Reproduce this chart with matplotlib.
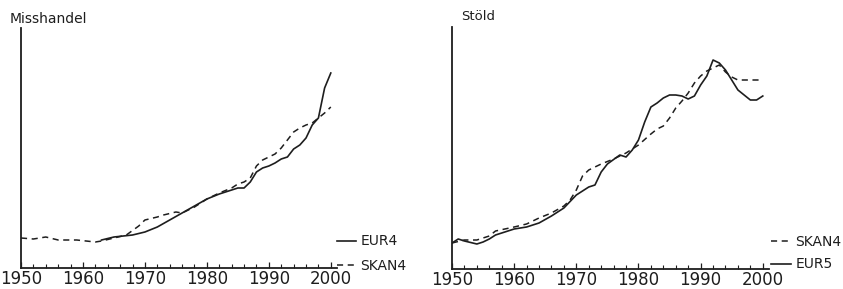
import numpy as np
import matplotlib
matplotlib.use("Agg")
import matplotlib.pyplot as plt

# Misshandel
mis_skan_ar = [1950, 1952, 1954, 1956, 1959, 1962, 1963, 1965, 1967, 1969, 1970, 1972, 1973,
               1975, 1976, 1977, 1978, 1980, 1982, 1984, 1985, 1986, 1987, 1988, 1989, 1990,
               1991, 1992, 1993, 1994, 1995, 1996, 1997, 1998, 1999, 2000]
mis_skan = [30, 29, 31, 28, 28, 26, 27, 30, 33, 42, 48, 51, 53,
            56, 55, 58, 61, 69, 75, 80, 84, 86, 90, 102, 108, 111,
            114, 120, 128, 136, 140, 143, 145, 150, 155, 161]
mis_eur_ar = [1963, 1965, 1968, 1970, 1972, 1974, 1976, 1978, 1980, 1982, 1984, 1985, 1986,
              1987, 1988, 1989, 1990, 1991, 1992, 1993, 1994, 1995, 1996, 1997, 1998, 1999, 2000]
mis_eur = [28, 31, 33, 36, 41, 48, 55, 62, 69, 74, 78, 80, 80,
           86, 96, 100, 102, 105, 109, 111, 119, 123, 130, 143, 150, 180, 195]

# Stöld
sto_skan_ar = [1950, 1952, 1954, 1956, 1957, 1960, 1962, 1964, 1966, 1968, 1969, 1970, 1971,
               1972, 1974, 1976, 1978, 1980, 1982, 1983, 1984, 1985, 1986, 1987, 1988, 1989,
               1990, 1991, 1992, 1993, 1994, 1995, 1996, 2000]
sto_skan = [26, 29, 29, 33, 38, 42, 45, 51, 56, 63, 69, 79, 93,
            99, 105, 110, 116, 124, 135, 140, 143, 151, 161, 168, 176, 186,
            193, 198, 201, 204, 197, 192, 189, 189]
sto_eur_ar = [1950, 1951, 1952, 1954, 1955, 1956, 1957, 1960, 1962, 1964, 1966, 1968, 1970,
              1972, 1973, 1974, 1975, 1977, 1978, 1979, 1980, 1981, 1982, 1983, 1984, 1985,
              1986, 1987, 1988, 1989, 1990, 1991, 1992, 1993, 1994, 1995, 1996, 1997, 1998,
              1999, 2000]
sto_eur = [26, 30, 28, 25, 27, 30, 34, 40, 42, 46, 53, 61, 74,
           82, 84, 97, 105, 114, 112, 119, 129, 147, 162, 166, 171, 174,
           174, 173, 170, 173, 184, 193, 209, 206, 199, 189, 179, 174, 169,
           169, 173]

farg = "#1e1e1e"
plt.rcParams["font.family"] = "DejaVu Sans"

fig = plt.figure(figsize=(8.43, 2.89), dpi=100)
ax1 = fig.add_axes([21 / 843, 21 / 289, 316 / 843, 240 / 289])
ax2 = fig.add_axes([452 / 843, 20 / 289, 317 / 843, 242 / 289])

ax1.plot(mis_eur_ar, mis_eur, color=farg, lw=1.2, label="EUR4")
ax1.plot(mis_skan_ar, mis_skan, color=farg, lw=1.1, ls=(0, (4, 3)), label="SKAN4")
ax1.set_ylim(0, 240)

ax2.plot(sto_skan_ar, sto_skan, color=farg, lw=1.1, ls=(0, (4, 3)), label="SKAN4")
ax2.plot(sto_eur_ar, sto_eur, color=farg, lw=1.2, label="EUR5")
ax2.set_ylim(0, 242)

for ax in (ax1, ax2):
    ax.set_xlim(1950, 2001)
    ax.spines["top"].set_visible(False)
    ax.spines["right"].set_visible(False)
    for s in ("left", "bottom"):
        ax.spines[s].set_linewidth(1.3)
        ax.spines[s].set_color(farg)
    ax.set_yticks([])
    ax.set_xticks(np.arange(1950, 2001, 10))
    ax.set_xticks(np.arange(1950, 2001, 2), minor=True)
    ax.tick_params(axis="x", which="major", direction="in", length=4.5, width=0.9,
                   color=farg, labelsize=12, pad=1.5, labelcolor=farg)
    ax.tick_params(axis="x", which="minor", direction="in", length=3, width=0.8, color=farg)
    ax.patch.set_visible(False)

ax1.legend(loc="lower left", bbox_to_anchor=(1.0, -0.02), frameon=False, fontsize=10,
           handlelength=1.4, handletextpad=0.3, labelspacing=0.75, borderpad=0,
           borderaxespad=0, labelcolor=farg)
ax2.legend(loc="lower left", bbox_to_anchor=(1.005, -0.01), frameon=False, fontsize=10,
           handlelength=1.5, handletextpad=0.3, labelspacing=0.6, borderpad=0,
           borderaxespad=0, labelcolor=farg)

fig.text(10 / 843, 1 - 19 / 289, "Misshandel", fontsize=10, va="center", color=farg)
fig.text(461 / 843, 1 - 17 / 289, "Stöld", fontsize=9.5, va="center", color=farg)

fig.savefig("out.png", dpi=100, facecolor="white")
